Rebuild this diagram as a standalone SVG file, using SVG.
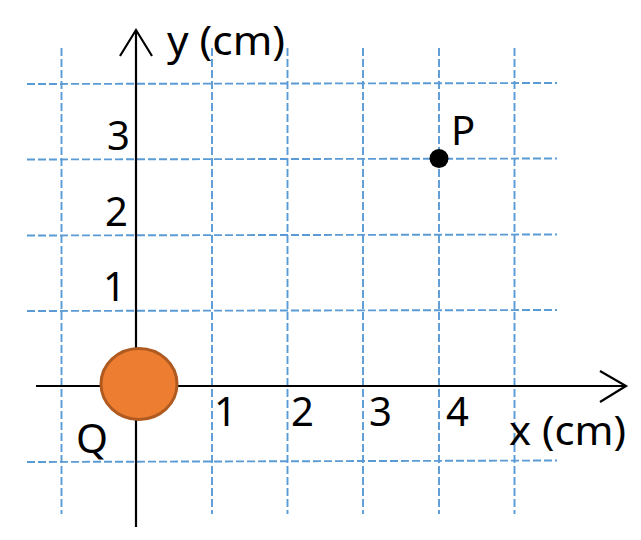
<svg xmlns="http://www.w3.org/2000/svg" width="641" height="540" viewBox="0 0 641 540">
<style>
.grid line{stroke:#5B9BD5;stroke-width:1.9;stroke-dasharray:8 3;fill:none}
.axis{stroke:#000;stroke-width:2.2;fill:none}
text{font-family:"Noto Sans","Open Sans","DejaVu Sans",sans-serif;font-size:40px;fill:#000}
</style>
<rect width="641" height="540" fill="#fff"/>
<g id="grid" class="grid">
<line x1="61.5" y1="48" x2="61.5" y2="514"/>
<line x1="212" y1="48" x2="212" y2="514"/>
<line x1="287.5" y1="48" x2="287.5" y2="514"/>
<line x1="363" y1="48" x2="363" y2="514"/>
<line x1="439" y1="48" x2="439" y2="514"/>
<line x1="514.5" y1="48" x2="514.5" y2="514"/>
<line x1="27" y1="84" x2="557" y2="83"/>
<line x1="27" y1="159.5" x2="557" y2="158.5"/>
<line x1="27" y1="235.5" x2="557" y2="234.5"/>
<line x1="27" y1="311" x2="557" y2="310"/>
<line x1="27" y1="462" x2="557" y2="460.5"/>
</g>
<g id="connectors">
<line class="axis" x1="36" y1="386" x2="626" y2="386"/>
<polyline class="axis" points="600,371 626,386 600,402"/>
<line class="axis" x1="136" y1="527" x2="136" y2="30"/>
<polyline class="axis" points="120,56 136,30 152,56"/>
</g>
<g id="Q">
<ellipse cx="139" cy="384" rx="38" ry="35.5" fill="#ED7D31" stroke="#AE5A21" stroke-width="3"/>
<text x="76" y="453" textLength="32" lengthAdjust="spacingAndGlyphs">Q</text>
</g>
<g id="P">
<circle cx="439" cy="158.5" r="9.5" fill="#000"/>
<text x="451" y="145">P</text>
</g>
<g id="labels">
<text x="167" y="55" textLength="118" lengthAdjust="spacingAndGlyphs">y (cm)</text>
<text x="509" y="445" textLength="117" lengthAdjust="spacingAndGlyphs">x (cm)</text>
<text x="107" y="150">3</text>
<text x="105" y="226">2</text>
<text x="103" y="301">1</text>
<text x="214" y="426">1</text>
<text x="291" y="426">2</text>
<text x="369" y="426">3</text>
<text x="446" y="426">4</text>
</g>
</svg>
